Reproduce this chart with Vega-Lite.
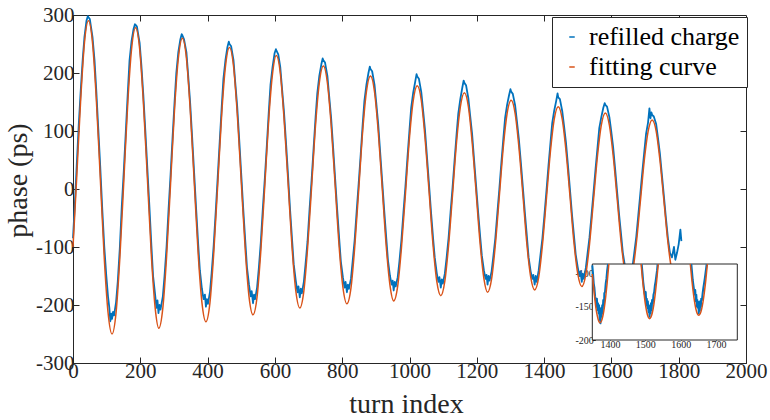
{
  "$schema": "https://vega.github.io/schema/vega-lite/v6.json",
  "autosize": {"type": "none"},
  "width": 673,
  "height": 348,
  "padding": {"left": 73, "top": 15, "right": 24, "bottom": 57},
  "background": "white",
  "datasets": {
    "blue": [
      {"t":0,"v":-85},{"t":6,"v":-20},{"t":11,"v":40},{"t":17,"v":110},{"t":23,"v":170},{"t":29,"v":225},{"t":34,"v":262},{"t":40,"v":290},{"t":44,"v":298},{"t":46,"v":296},{"t":50,"v":293},{"t":58,"v":262},{"t":64,"v":222},{"t":69,"v":172},{"t":75,"v":105},{"t":81,"v":38},{"t":87,"v":-35},{"t":93,"v":-100},{"t":99,"v":-150},{"t":104,"v":-185},{"t":108,"v":-205},{"t":111,"v":-228},{"t":114,"v":-215},{"t":116,"v":-224},{"t":119,"v":-212},{"t":122,"v":-218},{"t":128,"v":-195},{"t":133,"v":-160},{"t":139,"v":-103},{"t":145,"v":-30},{"t":151,"v":32},{"t":157,"v":100},{"t":163,"v":168},{"t":168,"v":222},{"t":174,"v":255},{"t":180,"v":276},{"t":184,"v":284},{"t":186,"v":283},{"t":190,"v":280},{"t":198,"v":252},{"t":203,"v":215},{"t":209,"v":162},{"t":215,"v":100},{"t":221,"v":35},{"t":227,"v":-30},{"t":233,"v":-98},{"t":238,"v":-150},{"t":244,"v":-182},{"t":248,"v":-205},{"t":251,"v":-192},{"t":254,"v":-214},{"t":257,"v":-200},{"t":260,"v":-208},{"t":267,"v":-185},{"t":272,"v":-150},{"t":278,"v":-100},{"t":284,"v":-35},{"t":290,"v":25},{"t":296,"v":90},{"t":302,"v":152},{"t":307,"v":200},{"t":313,"v":236},{"t":319,"v":258},{"t":323,"v":267},{"t":325,"v":265},{"t":330,"v":258},{"t":337,"v":236},{"t":342,"v":198},{"t":348,"v":150},{"t":354,"v":90},{"t":360,"v":28},{"t":366,"v":-35},{"t":372,"v":-95},{"t":377,"v":-140},{"t":383,"v":-172},{"t":388,"v":-190},{"t":392,"v":-182},{"t":395,"v":-203},{"t":398,"v":-190},{"t":401,"v":-198},{"t":407,"v":-178},{"t":412,"v":-145},{"t":418,"v":-98},{"t":424,"v":-40},{"t":430,"v":20},{"t":436,"v":82},{"t":442,"v":142},{"t":447,"v":190},{"t":453,"v":222},{"t":459,"v":245},{"t":463,"v":254},{"t":465,"v":250},{"t":470,"v":246},{"t":477,"v":222},{"t":482,"v":185},{"t":488,"v":142},{"t":494,"v":85},{"t":500,"v":25},{"t":506,"v":-35},{"t":512,"v":-90},{"t":517,"v":-135},{"t":523,"v":-165},{"t":528,"v":-185},{"t":531,"v":-176},{"t":535,"v":-197},{"t":538,"v":-182},{"t":541,"v":-190},{"t":547,"v":-170},{"t":552,"v":-138},{"t":558,"v":-93},{"t":564,"v":-35},{"t":570,"v":18},{"t":576,"v":75},{"t":582,"v":135},{"t":587,"v":180},{"t":593,"v":210},{"t":599,"v":234},{"t":603,"v":241},{"t":605,"v":238},{"t":610,"v":232},{"t":616,"v":210},{"t":621,"v":175},{"t":627,"v":133},{"t":633,"v":80},{"t":639,"v":24},{"t":645,"v":-35},{"t":651,"v":-87},{"t":656,"v":-130},{"t":662,"v":-158},{"t":667,"v":-178},{"t":670,"v":-168},{"t":674,"v":-187},{"t":677,"v":-172},{"t":680,"v":-180},{"t":686,"v":-160},{"t":691,"v":-130},{"t":697,"v":-90},{"t":703,"v":-35},{"t":709,"v":15},{"t":715,"v":70},{"t":721,"v":125},{"t":726,"v":165},{"t":732,"v":195},{"t":738,"v":215},{"t":742,"v":225},{"t":744,"v":222},{"t":749,"v":218},{"t":756,"v":195},{"t":761,"v":162},{"t":767,"v":123},{"t":773,"v":72},{"t":779,"v":18},{"t":785,"v":-35},{"t":791,"v":-85},{"t":796,"v":-125},{"t":802,"v":-152},{"t":807,"v":-170},{"t":810,"v":-160},{"t":814,"v":-178},{"t":817,"v":-165},{"t":820,"v":-172},{"t":826,"v":-155},{"t":831,"v":-125},{"t":837,"v":-88},{"t":843,"v":-38},{"t":849,"v":10},{"t":855,"v":60},{"t":861,"v":113},{"t":866,"v":152},{"t":872,"v":180},{"t":878,"v":200},{"t":882,"v":211},{"t":884,"v":207},{"t":889,"v":203},{"t":896,"v":180},{"t":901,"v":150},{"t":907,"v":112},{"t":913,"v":62},{"t":919,"v":12},{"t":925,"v":-38},{"t":931,"v":-85},{"t":936,"v":-123},{"t":942,"v":-150},{"t":947,"v":-165},{"t":950,"v":-158},{"t":953,"v":-175},{"t":956,"v":-160},{"t":959,"v":-168},{"t":965,"v":-152},{"t":970,"v":-125},{"t":976,"v":-88},{"t":982,"v":-40},{"t":988,"v":5},{"t":994,"v":55},{"t":1000,"v":102},{"t":1005,"v":140},{"t":1011,"v":166},{"t":1017,"v":185},{"t":1021,"v":198},{"t":1023,"v":194},{"t":1028,"v":190},{"t":1035,"v":167},{"t":1040,"v":138},{"t":1046,"v":102},{"t":1052,"v":55},{"t":1058,"v":8},{"t":1064,"v":-40},{"t":1070,"v":-84},{"t":1075,"v":-118},{"t":1081,"v":-145},{"t":1086,"v":-160},{"t":1089,"v":-152},{"t":1093,"v":-170},{"t":1096,"v":-156},{"t":1099,"v":-163},{"t":1105,"v":-146},{"t":1110,"v":-120},{"t":1116,"v":-85},{"t":1122,"v":-40},{"t":1128,"v":3},{"t":1134,"v":50},{"t":1140,"v":95},{"t":1145,"v":130},{"t":1151,"v":155},{"t":1157,"v":175},{"t":1161,"v":187},{"t":1163,"v":183},{"t":1168,"v":179},{"t":1175,"v":156},{"t":1180,"v":128},{"t":1186,"v":95},{"t":1192,"v":50},{"t":1198,"v":5},{"t":1204,"v":-40},{"t":1210,"v":-82},{"t":1215,"v":-115},{"t":1221,"v":-140},{"t":1226,"v":-155},{"t":1229,"v":-148},{"t":1232,"v":-165},{"t":1235,"v":-150},{"t":1238,"v":-158},{"t":1244,"v":-142},{"t":1249,"v":-117},{"t":1255,"v":-85},{"t":1261,"v":-42},{"t":1267,"v":0},{"t":1273,"v":45},{"t":1279,"v":88},{"t":1284,"v":122},{"t":1290,"v":145},{"t":1296,"v":162},{"t":1300,"v":172},{"t":1302,"v":168},{"t":1307,"v":164},{"t":1314,"v":144},{"t":1319,"v":118},{"t":1325,"v":86},{"t":1331,"v":45},{"t":1337,"v":2},{"t":1343,"v":-42},{"t":1349,"v":-83},{"t":1354,"v":-118},{"t":1360,"v":-142},{"t":1365,"v":-155},{"t":1368,"v":-148},{"t":1372,"v":-165},{"t":1375,"v":-150},{"t":1378,"v":-160},{"t":1384,"v":-140},{"t":1389,"v":-115},{"t":1395,"v":-85},{"t":1401,"v":-45},{"t":1407,"v":-3},{"t":1413,"v":40},{"t":1419,"v":80},{"t":1424,"v":113},{"t":1430,"v":135},{"t":1436,"v":152},{"t":1440,"v":165},{"t":1442,"v":158},{"t":1447,"v":155},{"t":1454,"v":134},{"t":1459,"v":110},{"t":1465,"v":80},{"t":1471,"v":40},{"t":1477,"v":-2},{"t":1483,"v":-45},{"t":1489,"v":-82},{"t":1494,"v":-113},{"t":1500,"v":-135},{"t":1505,"v":-150},{"t":1508,"v":-142},{"t":1512,"v":-160},{"t":1515,"v":-146},{"t":1518,"v":-155},{"t":1524,"v":-136},{"t":1529,"v":-112},{"t":1535,"v":-83},{"t":1541,"v":-45},{"t":1547,"v":-5},{"t":1553,"v":35},{"t":1559,"v":73},{"t":1564,"v":105},{"t":1570,"v":124},{"t":1576,"v":140},{"t":1580,"v":148},{"t":1582,"v":145},{"t":1587,"v":142},{"t":1594,"v":124},{"t":1599,"v":102},{"t":1605,"v":73},{"t":1611,"v":35},{"t":1617,"v":-5},{"t":1623,"v":-45},{"t":1629,"v":-80},{"t":1634,"v":-110},{"t":1640,"v":-132},{"t":1645,"v":-148},{"t":1648,"v":-140},{"t":1651,"v":-157},{"t":1654,"v":-145},{"t":1657,"v":-152},{"t":1663,"v":-133},{"t":1668,"v":-110},{"t":1674,"v":-82},{"t":1680,"v":-45},{"t":1686,"v":-8},{"t":1692,"v":30},{"t":1698,"v":66},{"t":1703,"v":95},{"t":1709,"v":115},{"t":1713,"v":139},{"t":1716,"v":122},{"t":1719,"v":132},{"t":1721,"v":128},{"t":1726,"v":125},{"t":1733,"v":112},{"t":1738,"v":90},{"t":1744,"v":62},{"t":1750,"v":25},{"t":1756,"v":-12},{"t":1762,"v":-50},{"t":1768,"v":-85},{"t":1774,"v":-110},{"t":1780,"v":-118},{"t":1786,"v":-100},{"t":1790,"v":-122},{"t":1795,"v":-110},{"t":1800,"v":-95},{"t":1805,"v":-70},{"t":1808,"v":-90}
    ],
    "fit": [
      {"t":0,"v":-100},{"t":11,"v":20},{"t":23,"v":156},{"t":34,"v":252},{"t":46,"v":290},{"t":58,"v":252},{"t":69,"v":158},{"t":81,"v":20},{"t":93,"v":-120},{"t":104,"v":-212},{"t":116,"v":-250},{"t":128,"v":-213},{"t":139,"v":-121},{"t":151,"v":14},{"t":163,"v":151},{"t":174,"v":241},{"t":186,"v":278},{"t":198,"v":242},{"t":209,"v":151},{"t":221,"v":19},{"t":233,"v":-116},{"t":244,"v":-204},{"t":255,"v":-240},{"t":267,"v":-205},{"t":278,"v":-118},{"t":290,"v":10},{"t":302,"v":140},{"t":313,"v":225},{"t":325,"v":260},{"t":337,"v":226},{"t":348,"v":140},{"t":360,"v":15},{"t":372,"v":-112},{"t":383,"v":-195},{"t":395,"v":-229},{"t":407,"v":-196},{"t":418,"v":-113},{"t":430,"v":7},{"t":442,"v":130},{"t":453,"v":211},{"t":465,"v":244},{"t":477,"v":212},{"t":488,"v":131},{"t":500,"v":13},{"t":512,"v":-106},{"t":523,"v":-185},{"t":535,"v":-217},{"t":547,"v":-186},{"t":558,"v":-108},{"t":570,"v":6},{"t":582,"v":123},{"t":593,"v":199},{"t":604,"v":230},{"t":616,"v":200},{"t":627,"v":123},{"t":639,"v":12},{"t":651,"v":-101},{"t":662,"v":-175},{"t":674,"v":-205},{"t":686,"v":-176},{"t":697,"v":-103},{"t":709,"v":3},{"t":721,"v":112},{"t":732,"v":183},{"t":744,"v":212},{"t":756,"v":183},{"t":767,"v":112},{"t":779,"v":7},{"t":791,"v":-100},{"t":802,"v":-169},{"t":814,"v":-198},{"t":826,"v":-171},{"t":837,"v":-102},{"t":849,"v":-2},{"t":861,"v":101},{"t":872,"v":168},{"t":884,"v":195},{"t":896,"v":168},{"t":907,"v":100},{"t":919,"v":1},{"t":931,"v":-100},{"t":942,"v":-166},{"t":953,"v":-193},{"t":965,"v":-167},{"t":976,"v":-102},{"t":988,"v":-8},{"t":1000,"v":89},{"t":1011,"v":152},{"t":1023,"v":178},{"t":1035,"v":153},{"t":1046,"v":89},{"t":1058,"v":-3},{"t":1070,"v":-97},{"t":1081,"v":-159},{"t":1093,"v":-184},{"t":1105,"v":-159},{"t":1116,"v":-98},{"t":1128,"v":-9},{"t":1140,"v":82},{"t":1151,"v":141},{"t":1163,"v":166},{"t":1175,"v":142},{"t":1186,"v":82},{"t":1198,"v":-6},{"t":1210,"v":-95},{"t":1221,"v":-154},{"t":1232,"v":-178},{"t":1244,"v":-155},{"t":1255,"v":-97},{"t":1267,"v":-12},{"t":1279,"v":74},{"t":1290,"v":130},{"t":1302,"v":153},{"t":1314,"v":130},{"t":1325,"v":73},{"t":1337,"v":-10},{"t":1349,"v":-96},{"t":1360,"v":-151},{"t":1372,"v":-174},{"t":1384,"v":-152},{"t":1395,"v":-97},{"t":1407,"v":-16},{"t":1419,"v":66},{"t":1430,"v":120},{"t":1442,"v":142},{"t":1454,"v":120},{"t":1465,"v":66},{"t":1477,"v":-13},{"t":1489,"v":-94},{"t":1500,"v":-146},{"t":1512,"v":-168},{"t":1524,"v":-147},{"t":1535,"v":-95},{"t":1547,"v":-18},{"t":1559,"v":59},{"t":1570,"v":110},{"t":1582,"v":131},{"t":1594,"v":110},{"t":1605,"v":59},{"t":1617,"v":-16},{"t":1629,"v":-92},{"t":1640,"v":-142},{"t":1651,"v":-163},{"t":1663,"v":-143},{"t":1674,"v":-94},{"t":1686,"v":-22},{"t":1698,"v":51},{"t":1709,"v":99},{"t":1721,"v":119},{"t":1733,"v":100},{"t":1744,"v":51},{"t":1756,"v":-20},{"t":1768,"v":-92},{"t":1779,"v":-139},{"t":1791,"v":-158}
    ],
    "insetBlue": [
      {"s":1,"t":1350,"v":-88},{"s":1,"t":1352,"v":-100},{"s":1,"t":1354,"v":-115},{"s":1,"t":1356,"v":-122},{"s":1,"t":1358,"v":-135},{"s":1,"t":1360,"v":-140},{"s":1,"t":1362,"v":-150},{"s":1,"t":1363,"v":-138},{"s":1,"t":1365,"v":-155},{"s":1,"t":1366,"v":-145},{"s":1,"t":1368,"v":-160},{"s":1,"t":1369,"v":-148},{"s":1,"t":1371,"v":-170},{"s":1,"t":1372,"v":-155},{"s":1,"t":1373,"v":-175},{"s":1,"t":1375,"v":-152},{"s":1,"t":1376,"v":-165},{"s":1,"t":1378,"v":-148},{"s":1,"t":1379,"v":-160},{"s":1,"t":1381,"v":-140},{"s":1,"t":1383,"v":-148},{"s":1,"t":1384,"v":-130},{"s":1,"t":1386,"v":-128},{"s":1,"t":1388,"v":-115},{"s":1,"t":1390,"v":-108},{"s":1,"t":1392,"v":-96},{"s":1,"t":1394.5,"v":-86},
      {"s":2,"t":1489.6,"v":-86},{"s":2,"t":1492,"v":-100},{"s":2,"t":1494,"v":-113},{"s":2,"t":1496,"v":-122},{"s":2,"t":1498,"v":-130},{"s":2,"t":1500,"v":-136},{"s":2,"t":1501,"v":-128},{"s":2,"t":1503,"v":-148},{"s":2,"t":1504,"v":-138},{"s":2,"t":1506,"v":-152},{"s":2,"t":1507,"v":-142},{"s":2,"t":1509,"v":-158},{"s":2,"t":1510,"v":-148},{"s":2,"t":1512,"v":-165},{"s":2,"t":1513,"v":-150},{"s":2,"t":1515,"v":-160},{"s":2,"t":1516,"v":-145},{"s":2,"t":1518,"v":-155},{"s":2,"t":1519,"v":-140},{"s":2,"t":1521,"v":-145},{"s":2,"t":1523,"v":-132},{"s":2,"t":1525,"v":-128},{"s":2,"t":1527,"v":-118},{"s":2,"t":1529,"v":-112},{"s":2,"t":1531,"v":-104},{"s":2,"t":1533,"v":-96},{"s":2,"t":1534.7,"v":-86},
      {"s":3,"t":1630,"v":-86},{"s":3,"t":1632,"v":-98},{"s":3,"t":1634,"v":-110},{"s":3,"t":1636,"v":-118},{"s":3,"t":1638,"v":-126},{"s":3,"t":1640,"v":-132},{"s":3,"t":1641,"v":-125},{"s":3,"t":1643,"v":-142},{"s":3,"t":1644,"v":-132},{"s":3,"t":1646,"v":-150},{"s":3,"t":1647,"v":-140},{"s":3,"t":1649,"v":-152},{"s":3,"t":1650,"v":-143},{"s":3,"t":1651,"v":-160},{"s":3,"t":1652,"v":-148},{"s":3,"t":1654,"v":-156},{"s":3,"t":1655,"v":-142},{"s":3,"t":1657,"v":-150},{"s":3,"t":1658,"v":-138},{"s":3,"t":1660,"v":-140},{"s":3,"t":1662,"v":-130},{"s":3,"t":1664,"v":-122},{"s":3,"t":1666,"v":-115},{"s":3,"t":1668,"v":-108},{"s":3,"t":1670,"v":-100},{"s":3,"t":1672,"v":-92},{"s":3,"t":1673.5,"v":-86}
    ],
    "insetFit": [
      {"s":1,"t":1350,"v":-101},{"s":1,"t":1352,"v":-112},{"s":1,"t":1356,"v":-133},{"s":1,"t":1360,"v":-151},{"s":1,"t":1364,"v":-163.5},{"s":1,"t":1368,"v":-171.4},{"s":1,"t":1372,"v":-174},{"s":1,"t":1376,"v":-171.5},{"s":1,"t":1380,"v":-163.9},{"s":1,"t":1384,"v":-151.6},{"s":1,"t":1388,"v":-134.7},{"s":1,"t":1392,"v":-114.3},{"s":1,"t":1396,"v":-90.4},{"s":1,"t":1396.7,"v":-86},
      {"s":2,"t":1488,"v":-86},{"s":2,"t":1492,"v":-109},{"s":2,"t":1496,"v":-129},{"s":2,"t":1500,"v":-146},{"s":2,"t":1504,"v":-158},{"s":2,"t":1508,"v":-165.5},{"s":2,"t":1512,"v":-168},{"s":2,"t":1516,"v":-165.6},{"s":2,"t":1520,"v":-158.4},{"s":2,"t":1524,"v":-146.8},{"s":2,"t":1528,"v":-130.8},{"s":2,"t":1532,"v":-111.5},{"s":2,"t":1536.5,"v":-86},
      {"s":3,"t":1627.1,"v":-86},{"s":3,"t":1631,"v":-107.4},{"s":3,"t":1635,"v":-126.4},{"s":3,"t":1639,"v":-142.1},{"s":3,"t":1643,"v":-153.6},{"s":3,"t":1647,"v":-160.6},{"s":3,"t":1651,"v":-163},{"s":3,"t":1655,"v":-160.7},{"s":3,"t":1659,"v":-154},{"s":3,"t":1663,"v":-143},{"s":3,"t":1667,"v":-127.9},{"s":3,"t":1671,"v":-109.7},{"s":3,"t":1675.4,"v":-86}
    ],
    "insetBox": [{"x1":1350,"x2":1760,"y1":-200,"y2":-86}]
  },
  "config": {
    "font": "Times New Roman, Liberation Serif, serif",
    "view": {"stroke": "#262626", "strokeWidth": 1},
    "axis": {
      "labelFont": "Times New Roman, Liberation Serif, serif",
      "titleFont": "Times New Roman, Liberation Serif, serif",
      "labelColor": "#262626",
      "titleColor": "#262626",
      "domainColor": "#262626",
      "tickColor": "#262626",
      "grid": false,
      "titleFontWeight": "normal",
      "labelOverlap": false,
      "labelFlush": false,
      "format": "d"
    },
    "legend": {
      "labelFont": "Times New Roman, Liberation Serif, serif"
    }
  },
  "layer": [
    {
      "layer": [
        {
          "data": {"name": "blue"},
          "mark": {"type": "line", "strokeWidth": 1.8, "strokeJoin": "round"},
          "encoding": {
            "x": {
              "field": "t", "type": "quantitative",
              "scale": {"domain": [0, 2000], "nice": false},
              "axis": {
                "values": [0, 200, 400, 600, 800, 1000, 1200, 1400, 1600, 1800, 2000],
                "format": "d", "labelOverlap": false, "labelFlush": false,
                "tickSize": -6, "labelFontSize": 21, "labelPadding": 3,
                "title": "turn index", "titleFontSize": 28,
                "titleX": 333, "titleY": 49, "titleBaseline": "alphabetic", "titleAlign": "center"
              }
            },
            "y": {
              "field": "v", "type": "quantitative",
              "scale": {"domain": [-300, 300], "nice": false},
              "axis": {
                "values": [-300, -200, -100, 0, 100, 200, 300],
                "format": "d", "labelFlush": false,
                "labelExpr": "replace(datum.label, '−', '-')",
                "tickSize": -6, "labelFontSize": 21, "labelPadding": 5,
                "title": "phase (ps)", "titleFontSize": 28,
                "titleAngle": 270, "titleX": -55, "titleY": 165,
                "titleAlign": "center", "titleBaseline": "middle"
              }
            },
            "color": {
              "datum": "refilled charge", "type": "nominal",
              "scale": {"domain": ["refilled charge", "fitting curve"], "range": ["#0072BD", "#D95319"]},
              "legend": {
                "orient": "none", "legendX": 479, "legendY": 2, "title": null,
                "symbolType": "stroke", "symbolSize": 30, "symbolStrokeWidth": 1.5,
                "labelFontSize": 26, "labelColor": "#000",
                "labelLimit": 400,
                "fillColor": "white", "strokeColor": "#262626", "padding": 7,
                "rowPadding": 4, "labelOffset": 4
              }
            }
          }
        },
        {
          "data": {"name": "fit"},
          "mark": {"type": "line", "strokeWidth": 1.5, "interpolate": "monotone"},
          "encoding": {
            "x": {"field": "t", "type": "quantitative"},
            "y": {"field": "v", "type": "quantitative"},
            "color": {"datum": "fitting curve", "type": "nominal"}
          }
        }
      ]
    },
    {
      "layer": [
        {
          "data": {"name": "insetBox"},
          "mark": {"type": "rect", "fill": "white", "stroke": "#262626", "strokeWidth": 1},
          "encoding": {
            "x": {
              "field": "x1", "type": "quantitative",
              "scale": {"domain": [1350, 1760], "range": [519.3, 664.3], "nice": false},
              "axis": {
                "orient": "bottom", "offset": -23, "values": [1400, 1500, 1600, 1700],
                "format": "d", "labelOverlap": false, "labelFlush": false,
                "labelFontSize": 10, "tickSize": -3, "domain": false, "title": null, "labelPadding": 2
              }
            },
            "x2": {"field": "x2"},
            "y": {
              "field": "y1", "type": "quantitative",
              "scale": {"domain": [-200, -86], "range": [325, 249], "nice": false},
              "axis": {
                "orient": "left", "offset": -519.3, "values": [-200, -150, -100],
                "format": "d", "labelFlush": false,
                "labelExpr": "replace(datum.label, '−', '-')",
                "labelFontSize": 10, "tickSize": -3, "domain": false, "title": null, "labelPadding": 2
              }
            },
            "y2": {"field": "y2"}
          }
        },
        {
          "data": {"name": "insetBlue"},
          "mark": {"type": "line", "strokeWidth": 2, "color": "#0072BD", "strokeJoin": "round"},
          "encoding": {
            "x": {"field": "t", "type": "quantitative"},
            "y": {"field": "v", "type": "quantitative"},
            "detail": {"field": "s", "type": "nominal"}
          }
        },
        {
          "data": {"name": "insetFit"},
          "mark": {"type": "line", "strokeWidth": 1.5, "color": "#D95319", "interpolate": "monotone"},
          "encoding": {
            "x": {"field": "t", "type": "quantitative"},
            "y": {"field": "v", "type": "quantitative"},
            "detail": {"field": "s", "type": "nominal"}
          }
        }
      ]
    },
    {
      "data": {"name": "fit"},
      "mark": {"type": "point", "opacity": 0},
      "encoding": {
        "x": {
          "field": "t", "type": "quantitative",
          "scale": {"domain": [0, 2000], "nice": false},
          "axis": {"orient": "top", "values": [200, 400, 600, 800, 1000, 1200, 1400, 1600, 1800], "labels": false, "domain": false, "tickSize": -6, "title": null}
        },
        "y": {
          "field": "v", "type": "quantitative",
          "scale": {"domain": [-300, 300], "nice": false},
          "axis": {"orient": "right", "values": [-200, -100, 0, 100, 200], "labels": false, "domain": false, "tickSize": -6, "title": null}
        }
      }
    }
  ],
  "resolve": {"scale": {"x": "independent", "y": "independent"}}
}
